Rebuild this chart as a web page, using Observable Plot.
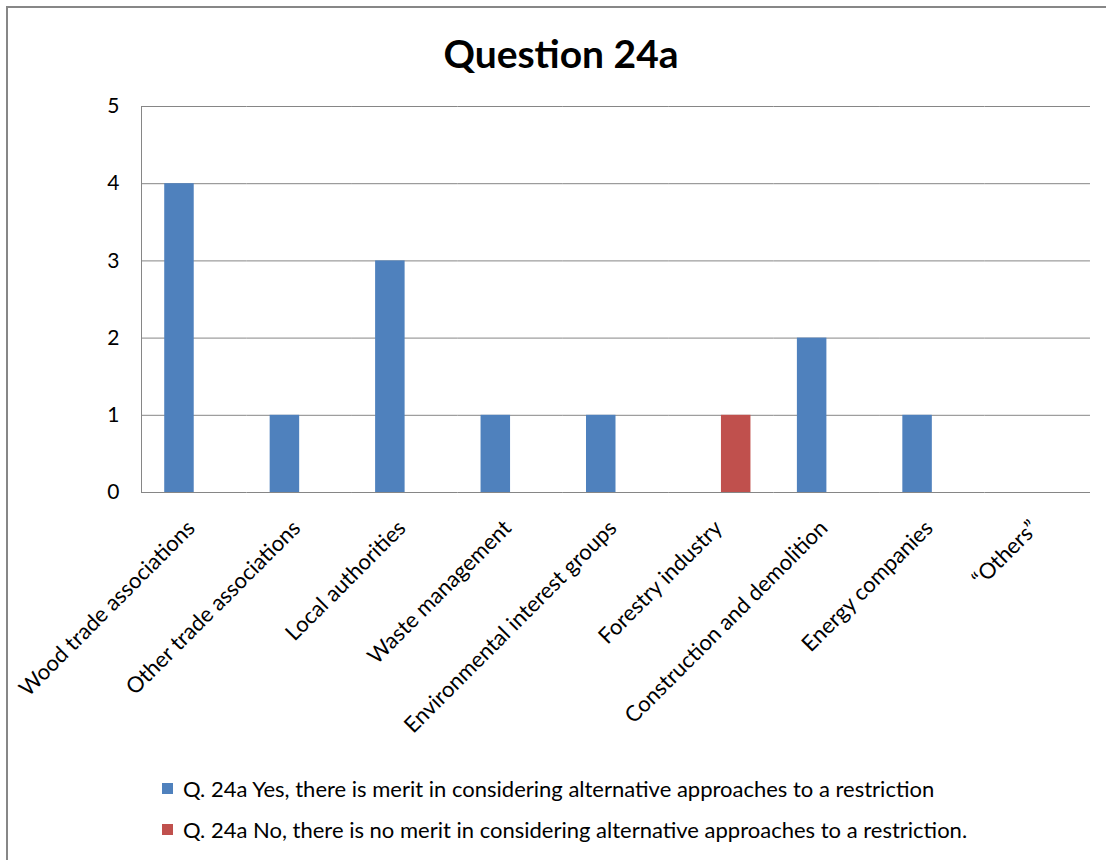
<!DOCTYPE html>
<html>
<head>
<meta charset="utf-8">
<script src="https://cdn.jsdelivr.net/npm/d3@7"></script>
<script src="https://cdn.jsdelivr.net/npm/@observablehq/plot@0.6"></script>
<style>
  body { margin: 0; background: #fff; font-family: Lato, "Open Sans", sans-serif; color: #000; }
  #border { position: absolute; left: 6px; top: 6px; width: 1130px; height: 900px; border: 2px solid #878787; box-sizing: border-box; }
  #title { position: absolute; left: 0; top: 31px; width: 1122px; text-align: center; font-weight: bold; font-size: 39px; line-height: 44px; }
  #chart { position: absolute; left: 0; top: 80px; }
  #legend { position: absolute; left: 162px; top: 775px; font-size: 22px; }
  .item { display: flex; align-items: center; height: 26px; margin-bottom: 15px; }
  .sw { width: 11px; height: 11px; margin-right: 10px; }
</style>
</head>
<body>
<div id="border"></div>
<div id="title"></div>
<div id="chart"></div>
<div id="legend"></div>
<script>
const titleText = "Question 24a";
const categories = [
  "Wood trade associations",
  "Other trade associations",
  "Local authorities",
  "Waste management",
  "Environmental interest groups",
  "Forestry industry",
  "Construction and demolition",
  "Energy companies",
  "\u201cOthers\u201d"
];
const seriesKeys = ["Yes", "No"];
const seriesNames = [
  "Q. 24a Yes, there is merit in considering alternative approaches to a restriction",
  "Q. 24a No, there is no merit in considering alternative approaches to a restriction."
];
const seriesColors = ["#4F81BD", "#C0504D"];
const yesValues = [4, 1, 3, 1, 1, 0, 2, 1, 0];
const noValues  = [0, 0, 0, 0, 0, 1, 0, 0, 0];
const yTicks = [0, 1, 2, 3, 4, 5];

const data = categories.flatMap((c, i) => [
  {category: c, series: seriesKeys[0], value: yesValues[i]},
  {category: c, series: seriesKeys[1], value: noValues[i]}
]);

document.getElementById("title").textContent = titleText;

const chart = Plot.plot({
  width: 1106,
  height: 670,
  marginLeft: 141,
  marginRight: 16,
  marginTop: 26,
  marginBottom: 258,
  style: {fontFamily: "Lato, 'Open Sans', sans-serif", fontSize: "21px", color: "#000", background: "transparent"},
  fx: {domain: categories, padding: 0, round: false, label: null},
  x: {domain: seriesKeys, paddingInner: 0, paddingOuter: 0.787, round: false, axis: null},
  y: {domain: [0, 5], label: null},
  color: {domain: seriesKeys, range: seriesColors},
  marks: [
    Plot.gridY(yTicks, {stroke: "#868686", strokeOpacity: 1, strokeWidth: 1}),
    Plot.frame({anchor: "left", facetAnchor: "left", stroke: "#868686", strokeWidth: 1}),
    Plot.axisY({ticks: yTicks, tickFormat: d3.format("d"), tickSize: 0, tickPadding: 22, stroke: "#868686", fill: "#000", fontSize: 21, label: null}),
    Plot.axisFx({anchor: "bottom", tickRotate: -45, tickSize: 0, tickPadding: 32, dx: -3, fontSize: 22, fill: "#000", label: null}),
    Plot.barY(data, {fx: "category", x: "series", y: "value", fill: "series"})
  ]
});
document.getElementById("chart").appendChild(chart);

const legend = document.getElementById("legend");
seriesNames.forEach((name, i) => {
  const row = document.createElement("div");
  row.className = "item";
  const sw = document.createElement("span");
  sw.className = "sw";
  sw.style.background = seriesColors[i];
  const t = document.createElement("span");
  t.textContent = name;
  row.appendChild(sw);
  row.appendChild(t);
  legend.appendChild(row);
});
</script>
</body>
</html>
